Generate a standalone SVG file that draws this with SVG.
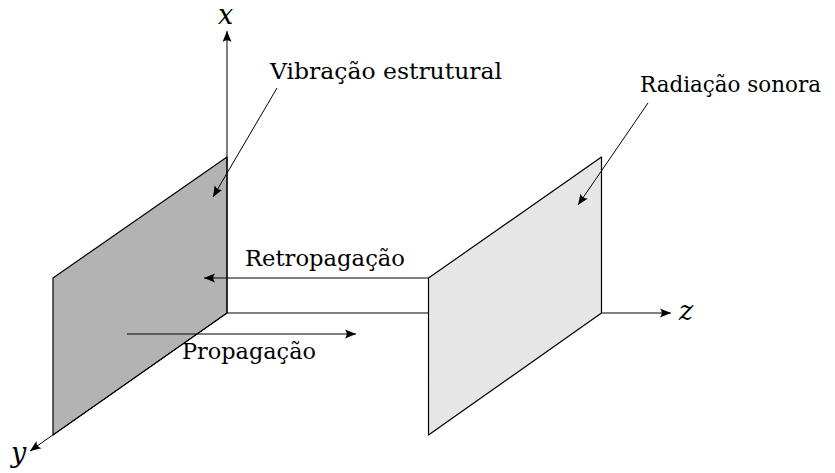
<svg xmlns="http://www.w3.org/2000/svg" width="835" height="473" viewBox="0 0 835 473">
<style>
.plane{stroke:#000;stroke-width:1.2;stroke-linejoin:round}
.ax{stroke:#000;stroke-width:1;fill:none}
.ln{stroke:#000;stroke-width:1;fill:none}
.lbl{font-family:"DejaVu Serif",serif;font-size:23px;fill:#000}
.math{font-family:"DejaVu Serif",serif;font-style:italic;font-size:27px;fill:#000}
</style>
<defs>
<marker id="arr" markerUnits="userSpaceOnUse" viewBox="-12 -6 14 12" refX="0" refY="0" markerWidth="14" markerHeight="12" orient="auto">
<path d="M0,0 L-11,-4.5 Q-7.5,0 -11,4.5 Z" fill="#000"/>
</marker>
</defs>
<g id="connectors">
<line class="ax" x1="227" y1="313" x2="671" y2="313" marker-end="url(#arr)"/>
</g>
<g id="plane-left">
<polygon class="plane" fill="#b3b3b3" points="227,157 227,313 53,435 53,278"/>
</g>
<g id="axes">
<line class="ax" x1="227" y1="313" x2="227" y2="31" marker-end="url(#arr)"/>
<line class="ax" x1="227" y1="313" x2="30" y2="451" marker-end="url(#arr)"/>
</g>
<g id="plane-right">
<polygon class="plane" fill="#e6e6e6" points="601.5,157 601.5,313 428.5,435 428.5,278"/>
</g>
<g id="arrows">
<line class="ln" x1="428.5" y1="278" x2="204" y2="278" marker-end="url(#arr)"/>
<line class="ln" x1="127" y1="334" x2="356" y2="334" marker-end="url(#arr)"/>
<line class="ln" x1="277" y1="88" x2="213" y2="197" marker-end="url(#arr)"/>
<line class="ln" x1="648" y1="103" x2="578" y2="205" marker-end="url(#arr)"/>
</g>
<g id="labels">
<text class="math" x="218" y="24">x</text>
<text class="math" x="11" y="462">y</text>
<text class="math" x="679" y="320">z</text>
<text class="lbl" x="270" y="79" textLength="232" lengthAdjust="spacingAndGlyphs">Vibração estrutural</text>
<text class="lbl" x="640" y="92" textLength="181" lengthAdjust="spacingAndGlyphs">Radiação sonora</text>
<text class="lbl" x="245" y="266" textLength="160" lengthAdjust="spacingAndGlyphs">Retropagação</text>
<text class="lbl" x="182" y="359" textLength="134" lengthAdjust="spacingAndGlyphs">Propagação</text>
</g>
</svg>
